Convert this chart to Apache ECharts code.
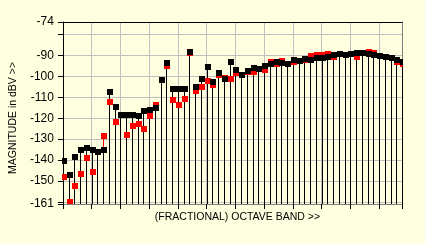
<!DOCTYPE html>
<html><head><meta charset="utf-8">
<script src="https://cdn.jsdelivr.net/npm/echarts@6/dist/echarts.min.js"></script>
<style>html,body{margin:0;padding:0;background:#ffffe0;}#c{width:425px;height:244px;}</style>
</head><body><div id="c"></div>
<script>
// fractional octave band index (0..59)
const bands = [0,1,2,3,4,5,6,7,8,9,10,11,12,13,14,15,16,17,18,19,20,21,22,23,24,25,26,27,28,29,
  30,31,32,33,34,35,36,37,38,39,40,41,42,43,44,45,46,47,48,49,50,51,52,53,54,55,56,57,58,59];
// magnitude in dBV (black series)
const blackLevels = [-140.3,-147.1,-138.7,-135.3,-134.4,-135.3,-136.3,-135.3,-107.7,-114.5,
  -118.5,-118.5,-118.5,-119.0,-116.4,-116.1,-115.1,-101.6,-93.4,-105.9,
  -105.9,-105.9,-88.2,-105.0,-101.1,-95.3,-102.5,-98.4,-101.1,-93.0,
  -97.0,-99.2,-97.3,-96.0,-96.6,-94.8,-94.0,-93.3,-93.8,-93.9,
  -92.1,-92.8,-91.8,-92.0,-91.0,-91.0,-90.6,-89.6,-89.2,-89.6,
  -89.1,-89.0,-89.0,-89.3,-89.7,-90.4,-90.9,-91.4,-92.0,-93.2];
// magnitude in dBV (red series)
const redLevels = [-148.3,-160.0,-152.3,-146.6,-139.2,-145.6,-136.3,-128.5,-112.1,-121.8,
  -118.5,-128.2,-123.9,-122.7,-125.3,-119.0,-113.5,-101.6,-95.1,-111.3,
  -113.7,-110.8,-89.0,-106.8,-104.9,-102.4,-104.1,-99.4,-100.6,-101.1,
  -98.4,-99.2,-97.9,-97.8,-96.6,-97.0,-93.0,-94.2,-92.7,-93.9,
  -93.0,-92.8,-92.2,-90.3,-89.9,-89.9,-89.4,-90.9,-89.2,-89.6,
  -89.1,-90.9,-89.0,-88.4,-89.0,-90.4,-90.9,-91.4,-93.0,-94.2];
const yTickValues = [-161,-160,-150,-140,-130,-120,-110,-100,-90,-80,-74];
const yLabelValues = [-161,-150,-140,-130,-120,-110,-100,-90,-74];
const xTickValues = [0,5,10,15,20,25,30,35,40,45,50,55,59];
const Y_MIN = -161, Y_MAX = -74, X_MIN = 0, X_MAX = 59;

const FONT = 'Liberation Sans';
const blackData = bands.map((b,i)=>[b, blackLevels[i]]);
const redData = bands.map((b,i)=>[b, redLevels[i]]);

function stem(color){
  return function(params, api){
    const top = api.coord([api.value(0), api.value(1)]);
    const base = api.coord([api.value(0), Y_MIN]);
    const px = Math.round(top[0]) + 0.5;
    return {type:'line', shape:{x1:px, y1:base[1], x2:px, y2:top[1]},
      style:{stroke:color, lineWidth:1}};
  };
}
function marker(color){
  return function(params, api){
    const p = api.coord([api.value(0), api.value(1)]);
    const rx = Math.round(p[0]) - 2, ry = Math.round(p[1]) - 3;
    return {type:'rect', shape:{x:rx, y:ry, width:6, height:6}, style:{fill:color}};
  };
}

const chart = echarts.init(document.getElementById('c'), null, {renderer:'canvas'});
chart.setOption({
  backgroundColor:'#ffffe0',
  animation:false,
  grid:{left:59, top:22, right:23, bottom:40, containLabel:false},
  xAxis:[{
    type:'value', min:X_MIN, max:X_MAX, position:'bottom',
    name:'(FRACTIONAL) OCTAVE BAND >>', nameLocation:'middle', nameGap:8,
    nameTextStyle:{fontFamily:FONT, fontSize:10.5, color:'#000', padding:[0,0,0,10]},
    axisLine:{show:true, onZero:false, lineStyle:{color:'#808080', width:1}},
    axisTick:{show:true, length:5, customValues:xTickValues, lineStyle:{color:'#000', width:1}},
    axisLabel:{show:false},
    splitLine:{show:true, lineStyle:{color:'#c0c0c0', width:1}}
  },{
    type:'value', min:X_MIN, max:X_MAX, position:'top',
    axisLine:{show:true, onZero:false, lineStyle:{color:'#000', width:1}},
    axisTick:{show:false}, axisLabel:{show:false}, splitLine:{show:false}
  }],
  yAxis:[{
    type:'value', min:Y_MIN, max:Y_MAX, position:'left',
    name:'MAGNITUDE in dBV >>', nameLocation:'middle', nameGap:36, nameRotate:90,
    nameTextStyle:{fontFamily:FONT, fontSize:10.5, color:'#000', padding:[0,10,0,0]},
    axisLine:{show:true, onZero:false, lineStyle:{color:'#000', width:1}},
    axisTick:{show:true, length:5, customValues:yTickValues, lineStyle:{color:'#000', width:1}},
    axisLabel:{show:true, customValues:yLabelValues, margin:9, fontFamily:FONT, fontSize:12, color:'#000'},
    splitLine:{show:true, lineStyle:{color:'#c0c0c0', width:1}}
  },{
    type:'value', min:Y_MIN, max:Y_MAX, position:'right',
    axisLine:{show:true, onZero:false, lineStyle:{color:'#808080', width:1}},
    axisTick:{show:false}, axisLabel:{show:false}, splitLine:{show:false}
  }],
  series:[
    {type:'custom', name:'red stems', data:redData, renderItem:stem('#ff0000'), clip:true, z:2},
    {type:'custom', name:'black stems', data:blackData, renderItem:stem('#000000'), clip:true, z:3},
    {type:'custom', name:'red', data:redData, renderItem:marker('#ff0000'), clip:true, z:4},
    {type:'custom', name:'black', data:blackData, renderItem:marker('#000000'), clip:true, z:5}
  ]
});
</script></body></html>
